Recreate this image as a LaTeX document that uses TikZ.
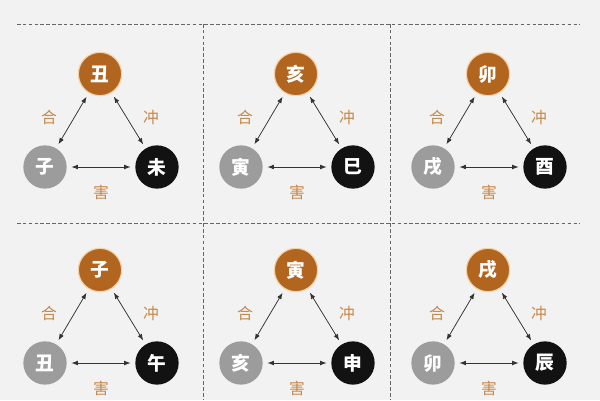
\documentclass[tikz,border=0pt]{standalone}
\usepackage{fontspec}
\newfontfamily\cjk{Noto Sans CJK SC}
\usepackage{tikz}
\usetikzlibrary{arrows.meta}
\definecolor{bgcol}{HTML}{F2F2F2}
\definecolor{brown}{HTML}{B2651F}
\definecolor{ringcol}{HTML}{F4D2A8}
\definecolor{greycirc}{HTML}{9C9C9C}
\definecolor{blackcirc}{HTML}{121212}
\definecolor{labcol}{HTML}{C88848}
\definecolor{dashcol}{HTML}{666666}

\begin{document}
\begin{tikzpicture}[x=0.03cm, y=-0.03cm,
    branch/.style={circle, minimum size=1.3cm, inner sep=0pt, outer sep=4pt,
      text=white, font=\cjk\bfseries\fontsize{16}{16}\selectfont},
    topbranch/.style={branch, fill=brown, draw=ringcol, line width=1pt},
    leftbranch/.style={branch, fill=greycirc},
    rightbranch/.style={branch, fill=blackcirc},
    relation/.style={text=labcol, font=\cjk\fontsize{13.5}{13.5}\selectfont},
    link/.style={{Latex[length=5.5pt,width=4pt]}-{Latex[length=5.5pt,width=4pt]}, line width=0.65pt, draw=black!80},
    divider/.style={draw=dashcol, line width=0.6pt, dash pattern=on 3pt off 2pt}]

    % Background
    \useasboundingbox[fill=bgcol] (0,0) rectangle (600,400);

    % Dividers
    \draw[divider] (17,24) -- (580,24);
    \draw[divider] (17,223) -- (580,223);
    \draw[divider] (203,24) -- (203,400);
    \draw[divider] (390,24) -- (390,400);

    % Triangles
    \foreach \cx/\ty/\a/\b/\c [count=\i] in {100/74/丑/子/未, 296/74/亥/寅/巳, 488/74/卯/戌/酉,
                                            100/270/子/丑/午, 296/270/寅/亥/申, 488/270/戌/卯/辰}
    {
        \node[topbranch] (top\i) at (\cx,\ty) {\a};
        \node[leftbranch] (left\i) at (\cx-55,\ty+93) {\b};
        \node[rightbranch] (right\i) at (\cx+57,\ty+93) {\c};

        \node[relation] (he\i) at (\cx-51,\ty+43) {合};
        \node[relation] (chong\i) at (\cx+51,\ty+43) {冲};
        \node[relation] (hai\i) at (\cx+1,\ty+118) {害};

        \draw[link] (top\i) -- (left\i);
        \draw[link] (top\i) -- (right\i);
        \draw[link] (left\i) -- (right\i);
    }

\end{tikzpicture}
\end{document}
